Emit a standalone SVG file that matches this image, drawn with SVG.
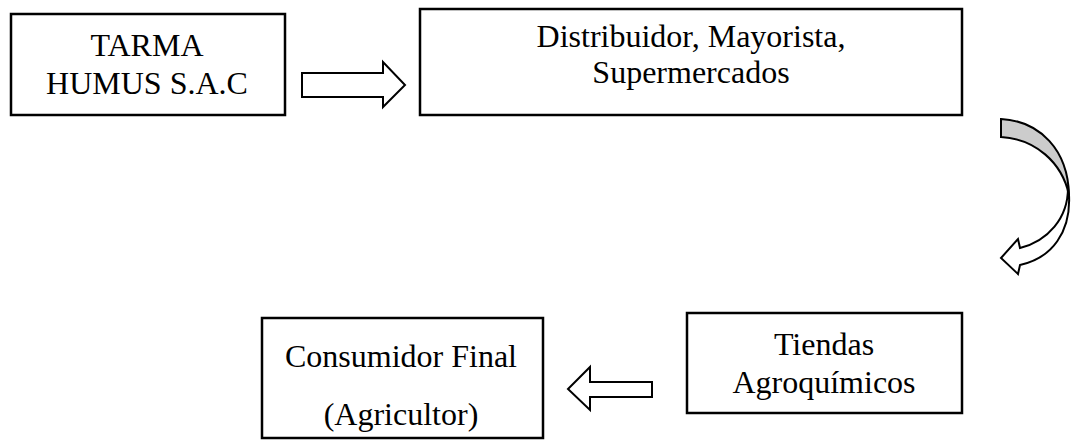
<svg xmlns="http://www.w3.org/2000/svg" width="1071" height="440" viewBox="0 0 1071 440">
<style>
.box{fill:#fff;stroke:#000;stroke-width:2.5}
.arr{fill:#fff;stroke:#000;stroke-width:2;stroke-linejoin:miter}
.back{fill:#cccccc;stroke:#000;stroke-width:2}
text{font-family:"Liberation Serif","Times New Roman",serif;font-size:32px;fill:#000;text-anchor:middle}
</style>
<rect width="1071" height="440" fill="#fff"/>
<g id="tarma">
<rect class="box" x="11" y="14" width="274" height="101"/>
<text x="147" y="56">TARMA</text>
<text x="147" y="94">HUMUS S.A.C</text>
</g>
<g id="distribuidor">
<rect class="box" x="420" y="9" width="542" height="106"/>
<text x="691" y="47">Distribuidor, Mayorista,</text>
<text x="691" y="83">Supermercados</text>
</g>
<g id="tiendas">
<rect class="box" x="687" y="313" width="275" height="100"/>
<text x="824" y="355">Tiendas</text>
<text x="824" y="393">Agroquímicos</text>
</g>
<g id="consumidor">
<rect class="box" x="262" y="318" width="281" height="120"/>
<text x="401" y="367">Consumidor Final</text>
<text x="401" y="425">(Agricultor)</text>
</g>
<g id="connectors">
<path class="arr" d="M302,73 L383,73 L383,62 L405,85 L383,107 L383,97 L302,97 Z"/>
<path class="back" d="M1001,119 C1040,121 1068,150 1069,195 C1062,162 1035,139 1001,137 Z"/>
<path class="arr" d="M1068,188 C1068,218 1048,241 1020,248 L1018,239 L1001,258 L1018,274 L1020,265 C1052,258 1071,232 1069,195 Z"/>
<path class="arr" d="M652,382 L590,382 L590,367 L568,389 L590,410 L590,397 L652,397 Z"/>
</g>
</svg>
